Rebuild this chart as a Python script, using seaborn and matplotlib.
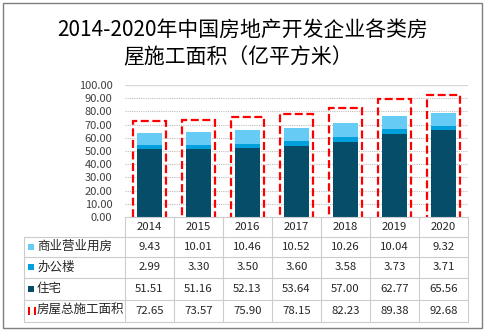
import matplotlib
matplotlib.use('Agg')
import matplotlib.pyplot as plt
import matplotlib.transforms as mtransforms
from matplotlib.patches import Rectangle
from matplotlib.lines import Line2D
import seaborn as sns
import pandas as pd
import numpy as np

# ---- data ----
years = ['2014', '2015', '2016', '2017', '2018', '2019', '2020']
commercial = [9.43, 10.01, 10.46, 10.52, 10.26, 10.04, 9.32]
office = [2.99, 3.30, 3.50, 3.60, 3.58, 3.73, 3.71]
residential = [51.51, 51.16, 52.13, 53.64, 57.00, 62.77, 65.56]
total = [72.65, 73.57, 75.90, 78.15, 82.23, 89.38, 92.68]
series_names = ['商业营业用房', '办公楼', '住宅', '房屋总施工面积']
yticks = [0, 10, 20, 30, 40, 50, 60, 70, 80, 90, 100]
title_lines = ['2014-2020年中国房地产开发企业各类房', '屋施工面积（亿平方米）']

C_COM = '#66CCF5'
C_OFF = '#00A0DC'
C_RES = '#064D6A'
C_TOT = '#FF0000'
GRID = '#BFBFBF'
TXT = '#262626'

sns.set_theme(style='white')
plt.rcParams['font.family'] = ['Noto Sans CJK SC', 'DejaVu Sans']

W, H = 487, 332
fig = plt.figure(figsize=(W / 100, H / 100), dpi=100)
fig.patch.set_facecolor('white')


def fy(py):
    return 1 - py / H


def fx(px):
    return px / W


ax = fig.add_axes([fx(125), fy(217), 343 / W, 132 / H])
ax.set_facecolor('white')

df = pd.DataFrame({'year': years, 'com': commercial, 'off': office,
                   'res': residential, 'total': total})
df['res_off'] = df['res'] + df['off']
df['stack'] = df['res_off'] + df['com']

sns.barplot(data=df, x='year', y='stack', color=C_COM, width=0.51, saturation=1,
            errorbar=None, linewidth=0, ax=ax, zorder=2)
sns.barplot(data=df, x='year', y='res_off', color=C_OFF, width=0.51, saturation=1,
            errorbar=None, linewidth=0, ax=ax, zorder=2)
sns.barplot(data=df, x='year', y='res', color=C_RES, width=0.51, saturation=1,
            errorbar=None, linewidth=0, ax=ax, zorder=2)
sns.barplot(data=df, x='year', y='total', color=C_TOT, fill=False, width=0.69,
            errorbar=None, linewidth=1.6, linestyle=(0, (3.6, 1.6)), ax=ax, zorder=3)
for p in ax.patches[-len(years):]:
    p.set_facecolor('none')
    p.set_edgecolor(C_TOT)
    # push the lower edge below the plot area so only three sides show
    h = p.get_height()
    p.set_y(-3)
    p.set_height(h + 3)

ax.set_xlim(-0.5, len(years) - 0.5)
ax.set_ylim(0, 100)
ax.set_yticks(yticks)
ax.set_yticklabels([f'{v:.2f}' for v in yticks])
ax.tick_params(axis='y', length=0, pad=9, labelsize=8, labelcolor='#404040')
ax.set_xticks([])
ax.set_xlabel('')
ax.set_ylabel('')
for s in ax.spines.values():
    s.set_visible(False)
for v in yticks[1:-1]:
    ax.axhline(v, color=GRID, lw=0.8, ls=(0, (1, 1)), zorder=1)
ax.axhline(100, color='#D9D9D9', lw=1, zorder=1)

# ---- table ----
bt = mtransforms.blended_transform_factory(ax.transData, fig.transFigure)
LC = '#CCCCCC'
row_lines = [236.7, 257.3, 278.3, 300, 321.7]
for i in range(len(years) + 1):
    fig.add_artist(Line2D([i - 0.5, i - 0.5], [fy(217), fy(321.7)], transform=bt,
                          color=LC, lw=0.8, zorder=5))
fig.add_artist(Line2D([-0.5, len(years) - 0.5], [fy(217), fy(217)], transform=bt,
                      color=LC, lw=0.8, zorder=5))
for ry in row_lines:
    fig.add_artist(Line2D([fx(24), fx(468)], [fy(ry), fy(ry)], transform=fig.transFigure,
                          color=LC, lw=0.8, zorder=5))
fig.add_artist(Line2D([fx(24), fx(24)], [fy(236.7), fy(321.7)], transform=fig.transFigure,
                      color=LC, lw=0.8, zorder=5))

for i, y in enumerate(years):
    fig.text(i, fy(226.5), y, transform=bt, ha='center', va='center', fontsize=8.2, color=TXT)

rows = [commercial, office, residential, total]
row_centers = [246.5, 267, 288.5, 310.5]
colors = [C_COM, C_OFF, C_RES]
for r, (name, vals, cy) in enumerate(zip(series_names, rows, row_centers)):
    for i, v in enumerate(vals):
        fig.text(i, fy(cy), f'{v:.2f}', transform=bt, ha='center', va='center',
                 fontsize=8.2, color=TXT)
    fig.text(fx(37), fy(cy), name, ha='left', va='center', fontsize=9, color=TXT)
    if r < 3:
        fig.add_artist(Rectangle((fx(28), fy(cy + 3)), 6 / W, 6 / H, transform=fig.transFigure,
                                 facecolor=colors[r], edgecolor='none'))
    else:
        for xx in (28, 34):
            fig.add_artist(Rectangle((fx(xx), fy(cy + 4)), 2 / W, 8 / H,
                                     transform=fig.transFigure,
                                     facecolor=C_TOT, edgecolor='none'))

# ---- title ----
fig.text(fx(243), fy(30), title_lines[0], ha='center', va='center', fontsize=15, color='black')
fig.text(fx(238), fy(57), title_lines[1], ha='center', va='center', fontsize=15, color='black')

# outer border
fig.add_artist(Rectangle((fx(3), fy(328)), 479 / W, 325 / H, transform=fig.transFigure,
                         facecolor='none', edgecolor='#7F7F7F', lw=1))

fig.savefig('out.png', dpi=100, facecolor='white')
